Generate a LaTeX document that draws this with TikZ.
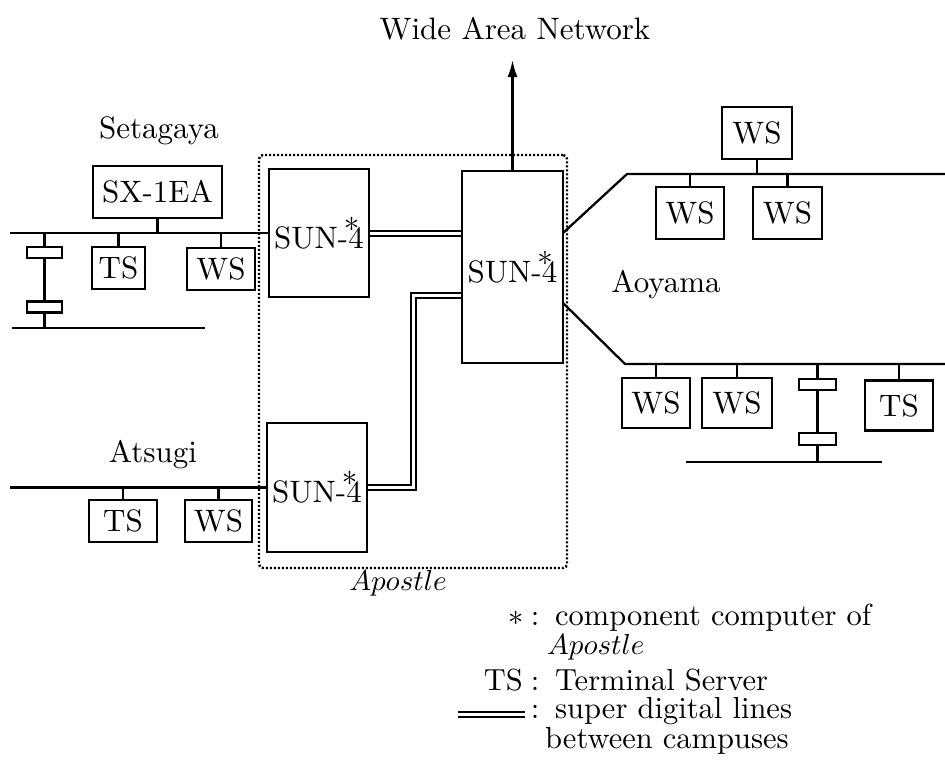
\documentclass[tikz,border=0pt]{standalone}
\usepackage{graphicx}
\usetikzlibrary{arrows.meta,backgrounds}
\newcommand\tx[1]{\scalebox{3.1}{#1}}
\newcommand\lgx[1]{\scalebox{3.05}{#1}}
\newcommand\sunlbl{\tx{SUN-\kern-0.14em\rlap{\raisebox{0.26em}{*}}\kern0.14em 4}}
\begin{document}
\begin{tikzpicture}[x=1pt,y=-1pt,
  box/.style={draw, line width=2.3pt, inner sep=0pt, fill=white},
  rep/.style={draw, line width=2.3pt, inner sep=0pt, minimum width=35, minimum height=11},
  net/.style={line width=2.3pt},
  dline/.style={line width=2pt, double distance=3pt, double=white},
  apbox/.style={draw, line width=2.4pt, dash pattern=on 2pt off 2pt, rounded corners=4pt, inner sep=0pt},
  lbl/.style={anchor=base, inner sep=0pt},
  lg/.style={anchor=base west, inner sep=0pt},
  lgk/.style={anchor=base east, inner sep=0pt},
  lgc/.style={anchor=base, inner sep=0pt}
]
\useasboundingbox (0,0) rectangle (945,764);

% labels
\node[lbl] (title) at (515,39) {\tx{Wide Area Network}};
\coordinate (wan) at (514,60);
\node[lbl] (seta) at (159,138) {\tx{Setagaya}};
\node[lbl] (atsu) at (153,462) {\tx{Atsugi}};
\node[lbl] (aoya) at (666,292) {\tx{Aoyama}};
\node[lbl] (apl) at (398,590) {\scalebox{2.9}{$Apostle$}};

% Apostle boundary
\node[apbox, minimum width=308, minimum height=413] (ap) at (413,361.5) {};

% SUN-4 machines
\node[box, minimum width=100, minimum height=128] (sunA) at (319,233) {\sunlbl};
\node[box, minimum width=100, minimum height=129] (sunB) at (317,487.5) {\sunlbl};
\node[box, minimum width=101, minimum height=192] (sunC) at (512.5,267) {\sunlbl};

% Setagaya
\node[box, minimum width=129, minimum height=52] (sx) at (157.5,192) {\tx{SX-1EA}};
\node[box, minimum width=53, minimum height=42] (ts1) at (118.5,268) {\tx{TS}};
\node[box, minimum width=68, minimum height=42] (ws1) at (221,269) {\tx{WS}};
\node[rep] (r1a) at (44.5,252.5) {};
\node[rep] (r1b) at (44.5,307) {};
\coordinate (b1w) at (10,233);
\coordinate (b1r) at (44.5,233);
\coordinate (l1w) at (12,328);
\coordinate (l1e) at (205,328);

% Atsugi
\node[box, minimum width=68, minimum height=42] (ts2) at (123,521) {\tx{TS}};
\node[box, minimum width=67, minimum height=42] (ws2) at (218.5,521) {\tx{WS}};
\coordinate (b2w) at (10,487.5);

% Aoyama
\node[box, minimum width=70, minimum height=52] (wsA1) at (757,133) {\tx{WS}};
\node[box, minimum width=68, minimum height=52] (wsA2) at (690,213) {\tx{WS}};
\node[box, minimum width=69, minimum height=52] (wsA3) at (787.5,213) {\tx{WS}};
\node[box, minimum width=68, minimum height=50] (wsA4) at (656,403) {\tx{WS}};
\node[box, minimum width=70, minimum height=50] (wsA5) at (737,403) {\tx{WS}};
\node[box, minimum width=68, minimum height=50] (tsA) at (899,405.5) {\tx{TS}};
\node[rep, minimum width=37] (r2a) at (817.5,384.5) {};
\node[rep, minimum width=37, minimum height=12] (r2b) at (817.5,439) {};
\coordinate (u0) at (563,233);
\coordinate (u1) at (627,174);
\coordinate (u2) at (945,174);
\coordinate (d0) at (563,303);
\coordinate (d1) at (625,364);
\coordinate (d2) at (945,364);
\coordinate (l2w) at (686,462);
\coordinate (l2e) at (882,462);
\coordinate (r2t) at (817.5,364);

\coordinate (k) at (413,295);

% legend
\node[lgk] (k1) at (524,625) {\lgx{$\ast$}};
\node[lgc] (c1) at (535,625) {\lgx{:}};
\node[lg] (lg1) at (555,625) {\lgx{component computer of}};
\node[lg] (lg2) at (547,654) {\scalebox{2.9}{$Apostle$}};
\node[lgk] (k3) at (523,690) {\lgx{TS}};
\node[lgc] (c3) at (535,690) {\lgx{:}};
\node[lg] (lg3) at (555,690) {\lgx{Terminal Server}};
\coordinate (lgd1) at (458,714.5);
\coordinate (lgd2) at (525,714.5);
\node[lgc] (c4) at (535,718) {\lgx{:}};
\node[lg] (lg4) at (555,718) {\lgx{super digital lines}};
\node[lg] (lg5) at (545,748) {\lgx{between campuses}};

\begin{scope}[on background layer]
  % WAN arrow
  \draw[net, -{Latex[length=17pt,width=10pt]}] (sunC.north) -- (sunC.north |- wan);
  % Setagaya net
  \draw[net] (b1w) -- (sunA.west);
  \draw[net] (sx.south) -- (sx.south |- b1w);
  \draw[net] (ts1.north) -- (ts1.north |- b1w);
  \draw[net] (ws1.north) -- (ws1.north |- b1w);
  \draw[net] (b1r) -- (r1a) -- (r1b) -- (r1b |- l1w);
  \draw[net] (l1w) -- (l1e);
  % Atsugi net
  \draw[net] (b2w) -- (sunB.west);
  \draw[net] (ts2.north) -- (ts2.north |- b2w);
  \draw[net] (ws2.north) -- (ws2.north |- b2w);
  % Aoyama nets
  \draw[net] (u0) -- (u1) -- (u2);
  \draw[net] (wsA1.south) -- (wsA1.south |- u1);
  \draw[net] (wsA2.north) -- (wsA2.north |- u1);
  \draw[net] (wsA3.north) -- (wsA3.north |- u1);
  \draw[net] (d0) -- (d1) -- (d2);
  \draw[net] (wsA4.north) -- (wsA4.north |- d1);
  \draw[net] (wsA5.north) -- (wsA5.north |- d1);
  \draw[net] (tsA.north) -- (tsA.north |- d1);
  \draw[net] (r2t) -- (r2a) -- (r2b) -- (r2b |- l2w);
  \draw[net] (l2w) -- (l2e);
  % super digital lines
  \draw[dline] (sunA.east) -- (sunC.west |- sunA.east);
  \draw[dline] (sunB.east) -| (k) -- (sunC.west |- k);
  \draw[dline] (lgd1) -- (lgd2);
\end{scope}
\end{tikzpicture}
\end{document}
